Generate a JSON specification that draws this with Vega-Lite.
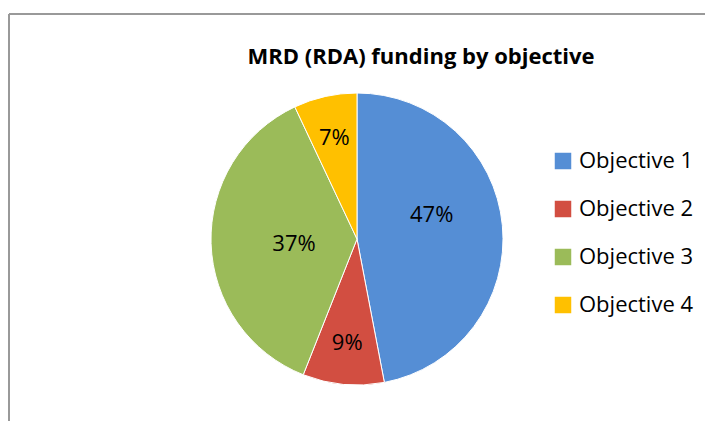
{
  "$schema": "https://vega.github.io/schema/vega-lite/v6.json",
  "width": 696,
  "height": 450,
  "autosize": {"type": "none"},
  "padding": {"left": 9, "top": 14, "right": 20, "bottom": 0},
  "background": "white",
  "view": {"stroke": "#999999", "strokeWidth": 2, "fill": "white", "strokeDash": [696, 1146, 450, 0]},
  "title": {
    "text": "MRD (RDA) funding by objective",
    "font": "Open Sans",
    "fontSize": 22,
    "fontWeight": "bold",
    "color": "black",
    "anchor": "middle",
    "baseline": "alphabetic",
    "offset": 0,
    "dx": 64,
    "dy": 72
  },
  "data": {
    "values": [
      {"objective": "Objective 1", "share": 0.47},
      {"objective": "Objective 2", "share": 0.09},
      {"objective": "Objective 3", "share": 0.37},
      {"objective": "Objective 4", "share": 0.07}
    ]
  },
  "encoding": {
    "theta": {"field": "share", "type": "quantitative", "stack": true},
    "order": {"field": "objective", "type": "nominal", "sort": "ascending"}
  },
  "layer": [
    {
      "mark": {"type": "arc", "outerRadius": 146, "stroke": "white", "strokeWidth": 1},
      "encoding": {
        "color": {
          "field": "objective",
          "type": "nominal",
          "scale": {
            "domain": ["Objective 1", "Objective 2", "Objective 3", "Objective 4"],
            "range": ["#558ED5", "#D24E41", "#9BBB59", "#FFC000"]
          },
          "legend": {
            "orient": "none",
            "legendX": 543,
            "legendY": 136,
            "title": null,
            "padding": 0,
            "labelFont": "Open Sans",
            "labelFontSize": 22,
            "labelColor": "black",
            "symbolType": "square",
            "symbolSize": 272,
            "symbolStrokeWidth": 0,
            "rowPadding": 26,
            "labelOffset": 5
          }
        }
      }
    },
    {
      "mark": {
        "type": "text",
        "font": "Open Sans",
        "fontSize": 22,
        "color": "black",
        "radius": {"expr": "datum.objective === 'Objective 1' ? 75 : datum.objective === 'Objective 3' ? 63 : 104"},
        "dy": {"expr": "datum.objective === 'Objective 1' ? -17 : datum.objective === 'Objective 3' ? 3 : 0"}
      },
      "encoding": {
        "detail": {"field": "objective", "type": "nominal"},
        "text": {"field": "share", "type": "quantitative", "format": ".0%"}
      }
    }
  ]
}
